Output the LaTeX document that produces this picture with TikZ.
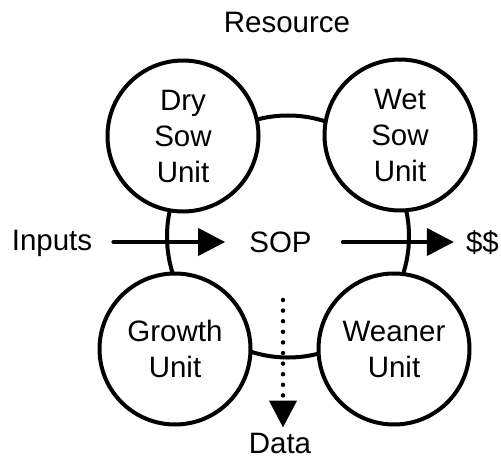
\documentclass[tikz,border=0pt]{standalone}
\usepackage{fontspec}
\setmainfont{Liberation Sans}
\usetikzlibrary{arrows.meta,calc}

\begin{document}
\begin{tikzpicture}[x=1pt, y=-1pt]
        \tikzset{unit/.style={circle, draw, fill=white, line width=4pt,
                     minimum size=151pt, inner sep=0pt, align=center},
                 ring/.style={circle, draw, line width=4pt,
                     minimum size=242pt, inner sep=0pt},
                 txt/.style={inner sep=0pt, anchor=base},
                 flow/.style={line width=4pt, -{Triangle[length=27pt, width=27pt]}}}
        \fontsize{29.5}{36}\selectfont
        \useasboundingbox (0, 0) rectangle (501, 458);
        \begin{scope}
            \node[ring] (R) at (288, 236.5) {};
            \node[unit] (DS) at (183, 136)
            {Dry\\Sow\\Unit};
            \node[unit] (WS) at (400, 135)
            {Wet\\Sow\\Unit};
            \node[unit] (GU) at (175, 349)
            {Growth\\Unit};
            \node[unit] (WU) at (394, 349)
            {Weaner\\Unit};
            \node[txt] (res) at (287, 32) {Resource};
            \node[inner sep=0pt] (sop) at (280.5, 242) {SOP};
            \node[txt] (in) at (52, 250) {Inputs};
            \node[txt] (out) at (482.5, 252) {\$\$};
            \node[txt] (data) at (280, 453) {Data};
            \coordinate (D0) at (283, 300);
        \end{scope}

        \begin{scope}[line cap=round]
            \draw[flow, shorten <=21pt, shorten >=24pt] (in.east |- sop.west) -- (sop.west);
            \draw[flow, shorten <=31pt, shorten >=12pt] (sop.east) -- (sop.east -| out.west);
            \draw[flow, line width=4.5pt, dash pattern=on 0pt off 10.6pt,
                  shorten >=5pt] (D0) -- (D0 |- data.north);
        \end{scope}

        \end{tikzpicture}
\end{document}
